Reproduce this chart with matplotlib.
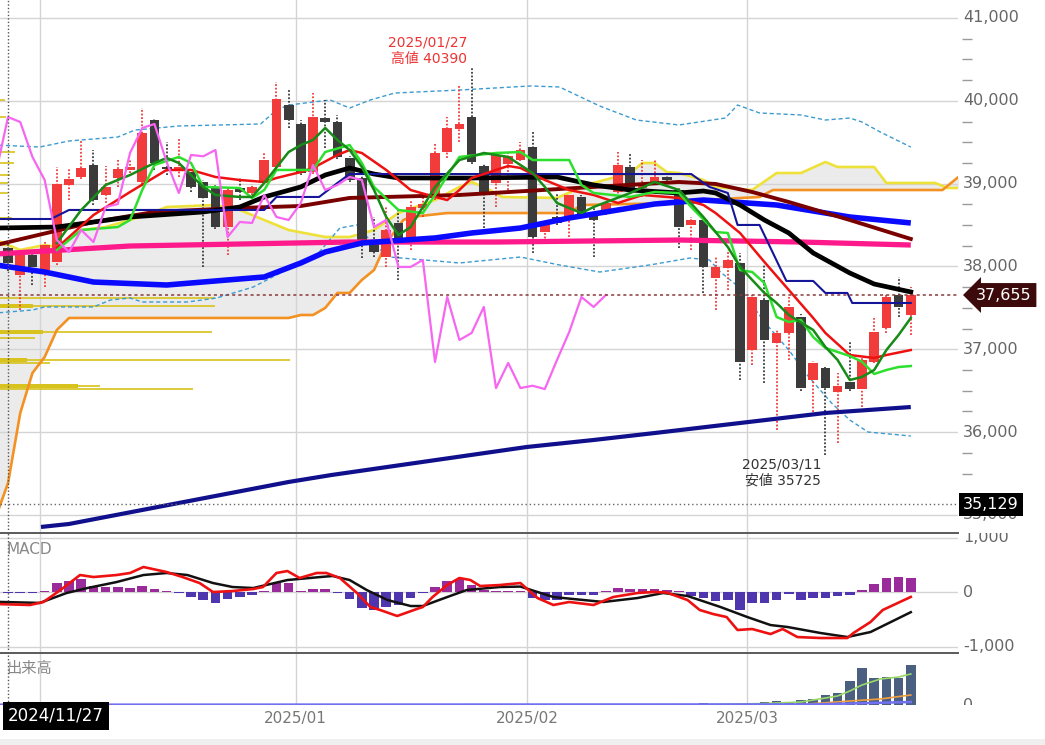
import numpy as np
import pandas as pd
import matplotlib
matplotlib.use('Agg')
import matplotlib.pyplot as plt
from matplotlib.patches import Rectangle

plt.rcParams['font.family'] = ['DejaVu Sans', 'Noto Sans CJK JP']

# ---- trading days (TSE calendar) ----
holidays = ['2024-12-31', '2025-01-01', '2025-01-02', '2025-01-03',
            '2025-01-13', '2025-02-11', '2025-02-24', '2025-03-20']
dates = pd.bdate_range('2024-11-27', '2025-03-21')
dates = dates[~dates.isin(pd.to_datetime(holidays))]

# ---- daily candles ----
opens = [38223, 37897, 38138, 37957, 38054, 38984, 39080, 39225, 38863, 39068,
         39165, 39020, 39768, 39190, 39177, 39140, 39020, 38960, 38476, 38947,
         38887, 39008, 39201, 39949, 39720, 39140, 39792, 39744, 39310, 39068,
         38319, 38114, 38525, 38319, 38706, 38827, 39382, 39660, 39804, 39213,
         39008, 39240, 39285, 39442, 38416, 38597, 38561, 38839, 38645, 38645,
         38899, 39201, 38947, 39020, 39080, 38923, 38501, 38561, 37861, 37981,
         38042, 36991, 37595, 37076, 37197, 37390, 36629, 36774, 36488, 36605,
         36520, 36847, 37257, 37655, 37414]
highs = [38300, 38199, 38199, 38300, 39201, 39189, 39527, 39406, 39213, 39285,
         39280, 39913, 39780, 39503, 39551, 39160, 39040, 38980, 38950, 39068,
         39000, 39370, 40227, 40130, 39768, 40094, 40010, 39829, 39330, 39090,
         38597, 38718, 38706, 38802, 38887, 39491, 39804, 40191, 40390, 39240,
         39370, 39390, 39503, 39623, 38560, 38887, 38880, 38860, 38700, 38790,
         39382, 39370, 39285, 39285, 39100, 38950, 38600, 38600, 38114, 38199,
         38163, 37660, 38018, 37230, 37631, 37420, 36860, 36790, 36714, 37088,
         36890, 37378, 37650, 37870, 37750]
lows = [37950, 37474, 37776, 37752, 38020, 38802, 39050, 38742, 38766, 38960,
        39130, 39000, 39165, 39104, 39080, 38900, 37994, 38450, 38138, 38802,
        38860, 38990, 39180, 39672, 39100, 39120, 39430, 39300, 39020, 38102,
        38114, 37994, 37837, 38199, 38597, 38800, 39310, 39503, 39240, 38464,
        38718, 38923, 39270, 38163, 38295, 38500, 38356, 38580, 38114, 38620,
        38839, 38900, 38839, 39000, 39020, 38219, 38199, 37680, 37474, 37716,
        36629, 36810, 36593, 36026, 36871, 36500, 36243, 35725, 35869, 36500,
        36303, 36830, 37197, 37390, 37173]
closes = [38042, 38138, 37994, 38259, 38996, 39056, 39189, 38802, 38960, 39177,
          39201, 39611, 39249, 39180, 39201, 38960, 38827, 38476, 38923, 38899,
          38960, 39285, 40022, 39768, 39128, 39804, 39744, 39322, 39044, 38319,
          38175, 38440, 38295, 38718, 38754, 39370, 39672, 39720, 39261, 38887,
          39346, 39330, 39406, 38356, 38537, 38525, 38863, 38597, 38561, 38766,
          39225, 38923, 38984, 39080, 39044, 38476, 38561, 37994, 37994, 38078,
          36847, 37631, 37112, 37197, 37511, 36532, 36835, 36532, 36560, 36520,
          36871, 37209, 37631, 37511, 37655]
lag = 25            # lagging span shift (days)
ref_level = 35129   # level marked on the right axis

# ---- overlay lines (trading-day index, price) ----
ma_red_x = [4, 7, 10, 13, 15, 17, 19, 21, 22, 24, 25, 27, 28, 29, 31, 33, 35, 36, 37, 38,
            40, 41, 42, 44, 46, 48, 50, 52, 55, 57, 58, 60, 62, 64, 66, 67, 69, 71, 72, 74]
ma_red = [38223, 38621, 38899, 39165, 39165, 39080, 39044, 39020, 39068, 39140,
          39189, 39346, 39406, 39370, 39165, 38923, 38839, 38802, 38923, 39068,
          39165, 39213, 39189, 39044, 38923, 38863, 38766, 38863, 38827, 38742,
          38645, 38404, 38054, 37716, 37378, 37197, 36931, 36895, 36931, 36991]
ma_lime_x = [4, 6, 9, 10, 11, 12, 14, 15, 16, 19, 20, 21, 22, 25, 26, 28, 29, 30, 32, 34,
             35, 37, 40, 42, 43, 46, 47, 48, 51, 53, 55, 56, 58, 59, 60, 61, 62, 63, 64, 65,
             66, 67, 69, 70, 71, 72, 73, 74]
ma_lime = [38199, 38440, 38476, 38561, 38923, 39225, 39322, 39249, 38960, 38947,
           38827, 38923, 39165, 39165, 39382, 39466, 39249, 38960, 38682, 38645,
           38863, 39322, 39370, 39382, 39285, 39285, 38984, 38887, 38839, 38899,
           38887, 38718, 38416, 38404, 37957, 37933, 37800, 37390, 37330, 37354,
           37148, 37016, 36919, 36850, 36702, 36750, 36786, 36798]
ma_green_x = [4, 6, 8, 10, 12, 13, 14, 16, 17, 19, 20, 21, 23, 24, 25, 26, 27, 28, 29, 30,
              31, 32, 33, 35, 37, 39, 41, 43, 44, 45, 47, 48, 51, 53, 55, 57, 59, 60, 61, 62,
              63, 64, 66, 67, 68, 69, 70, 71, 72, 73, 74]
ma_green = [38283, 38682, 38984, 39104, 39249, 39310, 39249, 38960, 38863, 38839,
            38839, 39008, 39382, 39466, 39527, 39672, 39527, 39406, 39201, 38923,
            38597, 38380, 38476, 38960, 39285, 39370, 39322, 39128, 38960, 38766,
            38645, 38718, 38887, 39020, 38923, 38597, 38235, 37994, 37837, 37680,
            37559, 37414, 37233, 37028, 36871, 36629, 36666, 36750, 36991, 37173, 37378]
ma_black_x = [-1, 4, 10, 16, 19, 21, 24, 26, 28, 30, 32, 38, 45, 48, 51, 55, 57, 58, 60, 62,
              64, 66, 69, 71, 74]
ma_black = [38464, 38476, 38597, 38658, 38718, 38839, 38960, 39104, 39189, 39116,
            39068, 39068, 39080, 38984, 38923, 38887, 38911, 38887, 38742, 38561,
            38404, 38163, 37921, 37788, 37692]
ma_maroon_x = [-1, 7, 12, 19, 24, 28, 37, 48, 55, 58, 61, 64, 69, 74]
ma_maroon = [38259, 38537, 38658, 38706, 38730, 38827, 38863, 38960, 39020, 38996,
             38899, 38778, 38561, 38332]
ma_blue_x = [-1, 3, 7, 13, 18, 21, 24, 26, 29, 35, 38, 42, 46, 50, 53, 57, 63, 69, 74]
ma_blue = [38018, 37933, 37812, 37776, 37837, 37873, 38042, 38175, 38283, 38344,
           38404, 38464, 38585, 38682, 38754, 38802, 38742, 38597, 38525]
ma_pink_x = [-1, 10, 28, 40, 55, 65, 74]
ma_pink = [38150, 38247, 38295, 38295, 38319, 38295, 38259]
ma_navy_x = [2.7, 5, 23, 26.5, 42.5, 48, 53, 67, 74]
ma_navy = [34855, 34891, 35398, 35482, 35820, 35905, 35989, 36231, 36303]

kijun_x = [-1, 3.5, 5, 21, 22, 25.5, 27, 28, 56, 57.5, 59, 59.8, 61.6, 63.8, 66, 67,
           68.8, 69.2, 74]
kijun = [38573, 38573, 38682, 38682, 38839, 38839, 39008, 39116, 39116, 38960,
         38887, 38501, 38501, 37825, 37825, 37680, 37680, 37559, 37559]
span_a_x = [-1, 1, 3, 4, 6, 8, 10, 12, 13, 17, 19, 21, 23, 26, 28, 30, 32, 35, 37, 38,
            39.5, 40.5, 45, 46.5, 48, 51, 52, 53, 54, 55, 57, 58, 61, 63, 65, 67, 68, 71,
            72, 76, 77, 79]
span_a = [38320, 38199, 38259, 38235, 38440, 38476, 38561, 38658, 38718, 38742,
          38682, 38561, 38440, 38356, 38356, 38440, 38645, 38802, 38960, 39020,
          38923, 38839, 38827, 38923, 39008, 39128, 39249, 39249, 39140, 39128,
          39044, 38960, 38923, 39128, 39128, 39261, 39201, 39201, 39008, 39008,
          38947, 38947]
span_b_x = [-1, 0, 1, 2, 3, 4, 5, 23, 24, 25, 26, 27, 28, 29, 30, 31, 32.4, 33, 36, 46,
            47, 55, 57, 61.6, 62.7, 76.6, 77.9, 79]
span_b = [34975, 35386, 36231, 36714, 36907, 37233, 37378, 37378, 37414, 37414,
          37499, 37680, 37680, 37837, 37957, 38283, 38561, 38597, 38645, 38645,
          38742, 38766, 38802, 38839, 38923, 38923, 39080, 39080]
bb_up_x = [-1, 2.6, 5, 9, 10.4, 14, 20.7, 22, 23, 26.4, 28, 29.7, 31.7, 37, 42.8, 45.2,
           48.5, 51.5, 55, 58.8, 59.8, 61.6, 65, 67, 69, 70, 71.5, 74]
bb_up = [39466, 39442, 39515, 39563, 39647, 39696, 39720, 39889, 39949, 40010,
         39913, 40010, 40094, 40130, 40179, 40167, 39937, 39768, 39708, 39792,
         39949, 39853, 39829, 39768, 39792, 39744, 39623, 39442]
bb_dn_x = [-1, 2, 3, 7, 8.4, 10, 11, 14.7, 17.1, 20.1, 23.1, 25.3, 27.2, 28.6, 30, 31.3,
           37, 42, 45.2, 48.5, 52.6, 55.9, 57.5, 58.4, 60, 62, 64, 65.5, 67.5, 69, 70.5, 74]
bb_dn = [37438, 37474, 37511, 37511, 37595, 37619, 37571, 37571, 37619, 37752,
         37981, 38138, 38464, 38501, 38259, 38114, 38042, 38114, 38018, 37933,
         38018, 38102, 38078, 37933, 37740, 37330, 36991, 36690, 36352, 36146,
         36001, 35953]

# volume by price (price level, total, core)
vp_price = [40010, 39804, 39382, 39249, 39104, 39008, 38887, 38585, 38464, 38259,
            37619, 37523, 37209, 37136, 36871, 36835, 36557, 36520]
vp_total = [5, 6, 15, 14, 10, 8, 8, 12, 8, 10, 215, 215, 212, 35, 290, 50, 100, 193]
vp_core = [0, 0, 0, 0, 0, 0, 0, 0, 0, 0, 0, 33, 43, 0, 27, 0, 78, 0]

# ---- MACD ----
macd_x = [-1, 1.8, 2.9, 4.3, 5.9, 7, 8.9, 10, 11.1, 13, 14.3, 15.7, 16.8, 18.4, 20.1,
          20.9, 22, 22.9, 23.9, 25.3, 26.1, 27.2, 28.6, 29.7, 30.5, 31.9, 33.5, 34,
          34.8, 36, 37, 37.9, 38.7, 40.3, 42, 43.4, 44.7, 46, 48, 49.6, 51.6, 52.9, 54,
          55.7, 56.7, 57.8, 58.9, 59.8, 61, 62.5, 63.5, 64.7, 66.6, 68.8, 69.3, 70.7,
          71.7, 74]
macd = [-220, -238, -183, 37, 312, 275, 312, 349, 459, 367, 275, 165, 0, 18, 55, 92,
        349, 385, 257, 349, 349, 257, -18, -275, -330, -440, -312, -275, -92, 128,
        257, 220, 110, 128, 165, -110, -238, -183, -238, -92, -18, 0, -10, -147, -330,
        -404, -459, -697, -679, -771, -679, -826, -844, -844, -752, -550, -330, -90]
signal_x = [-1, 2.6, 4.8, 6.5, 8.9, 11.1, 13, 14.7, 16.8, 18.4, 20.1, 22.9, 25.6, 26.6,
            28, 29.4, 31.1, 33, 34, 36, 37.6, 40.3, 42, 44.7, 48.8, 51.6, 53.7, 55.7,
            58.4, 60.6, 62.5, 63.9, 66.6, 68.8, 70.7, 74]
signal = [-180, -200, -18, 73, 183, 312, 349, 312, 165, 92, 73, 220, 275, 294, 220, 37,
          -147, -257, -257, -92, 37, 92, 100, -92, -183, -110, -18, -73, -275, -459,
          -606, -642, -752, -826, -734, -370]
hist = [-15, -10, -15, 10, 165, 200, 235, 110, 92, 92,
        73, 117, 55, 10, -10, -92, -147, -202, -128, -92,
        -55, 10, 165, 165, 15, 55, 55, -15, -128, -294,
        -330, -275, -238, -110, -15, 100, 202, 238, 128, 30,
        15, 15, 20, -110, -140, -150, -55, -55, -55, 20,
        73, 55, 55, 55, 40, 10, -73, -110, -165, -147,
        -330, -202, -202, -147, -37, -140, -110, -110, -80, -50,
        40, 150, 257, 270, 257]

# ---- volume ----
volume = [0] * 56 + [500, 1700, 600, 800, 1000, 1500, 3000, 4000, 3000, 5000, 6000,
                     10000, 12000, 24000, 37000, 27000, 28000, 27000, 40000]
vol_ma1_x = [57, 62, 65, 68, 69, 70, 71.5, 73, 74]
vol_ma1 = [300, 1500, 3000, 9000, 14000, 20000, 26000, 28000, 31000]
vol_ma2_x = [65, 69, 71.5, 74]
vol_ma2 = [500, 4000, 6000, 10000]
vol_ma3_x = [-1, 66, 74]
vol_ma3 = [300, 600, 3000]

# ---------------- layout ----------------
W, H = 1045, 745
fig = plt.figure(figsize=(W / 100, H / 100), dpi=100)


def px_box(x0, y0, x1, y1):
    return [x0 / W, 1 - y1 / H, (x1 - x0) / W, (y1 - y0) / H]


ax = fig.add_axes(px_box(0, 0, 958, 533))
ax_macd = fig.add_axes(px_box(0, 533, 958, 653), sharex=ax)
ax_vol = fig.add_axes(px_box(0, 653, 958, 705), sharex=ax)
lab_main = fig.add_axes(px_box(958, 0, 1045, 533), sharey=ax)
lab_macd = fig.add_axes(px_box(958, 533, 1045, 653), sharey=ax_macd)
lab_vol = fig.add_axes(px_box(958, 653, 1045, 705), sharey=ax_vol)

ax.set_xlim(-0.66, 77.87)
ax.set_ylim(34782, 41217)
ax_macd.set_ylim(-1119, 1083)
ax_vol.set_ylim(0, 52000)

idx = np.arange(len(closes))
month_start = [i for i in range(1, len(dates)) if dates[i].month != dates[i - 1].month]
grid_x = [i - 0.42 for i in month_start]
# the first month label sits under the start-date tag, so it stays blank
grid_lbl = [''] + [dates[i].strftime('%Y/%m') for i in month_start[1:]]

grid_color = '#d4d4d4'
for a in (ax, ax_macd, ax_vol):
    for s in a.spines.values():
        s.set_visible(False)
    a.set_xticks(grid_x)
    a.grid(axis='x', color=grid_color, lw=1)
    a.set_axisbelow(True)
    a.tick_params(left=False, labelleft=False, bottom=False, labelbottom=False)
    a.axvline(0, color='#555555', lw=1, ls=(0, (1, 1.5)), zorder=6)
ax_vol.tick_params(labelbottom=True, labelsize=11, labelcolor='#777777', pad=1)
ax_vol.set_xticklabels(grid_lbl)

for a in (ax_macd, ax_vol):
    a.spines['top'].set_visible(True)
    a.spines['top'].set_color('#5a5a5a')
    a.spines['top'].set_linewidth(1.4)

# main price grid
ax.set_yticks(range(35000, 41001, 1000))
ax.grid(axis='y', color=grid_color, lw=1)

# ichimoku cloud
cx = np.union1d(span_a_x, span_b_x)
ax.fill_between(cx, np.interp(cx, span_a_x, span_a), np.interp(cx, span_b_x, span_b),
                color='#ebebeb', lw=0, zorder=0.2)
ax.plot(span_a_x, span_a, color='#eee13a', lw=1.9, zorder=2)
ax.plot(span_b_x, span_b, color='#f39122', lw=1.9, zorder=2)

# volume by price
px_to_idx = 1 / 12.19
vp_left = -0.66
ax.barh(vp_price, np.array(vp_total) * px_to_idx, left=vp_left, height=14,
        color='#d8c21e', alpha=0.85, lw=0, zorder=1)
ax.barh(vp_price, np.array(vp_core) * px_to_idx, left=vp_left, height=40,
        color='#d8c21e', lw=0, zorder=1)

# bollinger bands
ax.plot(bb_up_x, bb_up, color='#3d9bd0', lw=1, ls=(0, (3, 2)), zorder=2)
ax.plot(bb_dn_x, bb_dn, color='#3d9bd0', lw=1, ls=(0, (3, 2)), zorder=2)

# candles
o = np.array(opens)
c = np.array(closes)
up = c >= o
col = np.where(up, '#f23b3b', '#3b3b3b')
ax.vlines(idx, lows, highs, colors=col, lw=1.3, linestyles=(0, (1, 1)), zorder=3)
body = np.maximum(np.abs(c - o), 20)
ax.bar(idx, body, bottom=np.minimum(o, c), width=0.8, color=col, lw=0, zorder=3.1)

# moving averages and other lines
ax.plot(ma_pink_x, ma_pink, color='#ff1a8c', lw=3.8, zorder=4, solid_capstyle='butt')
ax.plot(ma_blue_x, ma_blue, color='#0a0aff', lw=4.0, zorder=4.1, solid_capstyle='butt')
ax.plot(ma_navy_x, ma_navy, color='#10108c', lw=3.0, zorder=4.1, solid_capstyle='butt')
ax.plot(ma_maroon_x, ma_maroon, color='#7a0000', lw=2.8, zorder=4.2)
ax.plot(ma_black_x, ma_black, color='#000000', lw=3.4, zorder=4.3)
ax.plot(kijun_x, kijun, color='#15159a', lw=1.5, zorder=4.4)
ax.plot(ma_red_x, ma_red, color='#ee1111', lw=1.8, zorder=4.5)
ax.plot(ma_lime_x, ma_lime, color='#2ee02e', lw=1.8, zorder=4.6)
ax.plot(ma_green_x, ma_green, color='#178a17', lw=1.8, zorder=4.7)
ax.plot(idx - lag, closes, color='#f766f0', lw=1.6, zorder=4.8)

# price / reference lines
ax.axhline(closes[-1], color='#8a3a3a', lw=1.1, ls=(0, (2, 2)), zorder=5)
ax.axhline(ref_level, color='#666666', lw=1, ls=(0, (1, 2)), zorder=5)

# high / low annotations
i_hi = int(np.argmax(highs))
i_lo = int(np.argmin(lows))
ax.annotate(f"{dates[i_hi].strftime('%Y/%m/%d')}\n高値 {highs[i_hi]}", xy=(i_hi, highs[i_hi]),
            xytext=(-3, 2), textcoords='offset points', ha='right', va='bottom',
            multialignment='right', fontsize=10, color='#ee3333', linespacing=1.2)
ax.annotate(f"{dates[i_lo].strftime('%Y/%m/%d')}\n安値 {lows[i_lo]}", xy=(i_lo, lows[i_lo]),
            xytext=(-3, -2), textcoords='offset points', ha='right', va='top',
            multialignment='right', fontsize=10, color='#333333', linespacing=1.2)

# MACD panel
ax_macd.set_yticks([-1000, 0, 1000])
ax_macd.grid(axis='y', color=grid_color, lw=1)
h = np.array(hist)
ax_macd.bar(idx, h, width=0.78, color=np.where(h >= 0, '#9a2b9a', '#5036ae'), lw=0, zorder=2)
ax_macd.plot(signal_x, signal, color='#111111', lw=1.8, zorder=3)
ax_macd.plot(macd_x, macd, color='#ee1111', lw=1.9, zorder=3.1)

# volume panel
ax_vol.bar(idx, volume, width=0.78, color='#4b6080', lw=0, zorder=2)
ax_vol.plot(vol_ma1_x, vol_ma1, color='#9ad86a', lw=1.2, zorder=3)
ax_vol.plot(vol_ma2_x, vol_ma2, color='#f0a040', lw=1.2, zorder=3)
ax_vol.plot(vol_ma3_x, vol_ma3, color='#7070f0', lw=1.8, zorder=3)

# right-hand label columns
lab_color = '#666666'
for a in (lab_main, lab_macd, lab_vol):
    a.set_xlim(0, 1)
    a.axis('off')

for v in range(35000, 41001, 1000):
    lab_main.text(0.06, v, f'{v:,}', fontsize=11.5, color=lab_color, va='center', clip_on=True)
minor = [v for v in range(34750, 41250, 250) if v % 1000]
lab_main.hlines(minor, 0.05, 0.16, color='#9a9a9a', lw=1)
lab_main.text(0.21, closes[-1], f'{closes[-1]:,}', fontsize=11.5, color='white', va='center',
              bbox=dict(boxstyle='larrow,pad=0.28', fc='#3c0a0a', ec='none'), zorder=5)
lab_main.text(0.06, ref_level, f'{ref_level:,}', fontsize=11.5, color='white', va='center',
              bbox=dict(boxstyle='square,pad=0.25', fc='black', ec='none'), zorder=5)

for v in (-1000, 0, 1000):
    lab_macd.text(0.06, v, f'{v:,}', fontsize=11.5, color=lab_color, va='center', clip_on=True)
lab_vol.text(0.06, 0, '0', fontsize=11.5, color=lab_color, va='center', clip_on=True)

# panel captions and start date tag
fig.text(6 / W, 1 - 549 / H, 'MACD', fontsize=11, color='#888888', va='center')
fig.text(6 / W, 1 - 668 / H, '出来高', fontsize=11, color='#888888', va='center')
fig.text(8 / W, 1 - 716 / H, dates[0].strftime('%Y/%m/%d'), fontsize=12, color='white',
         va='center', zorder=10,
         bbox=dict(boxstyle='square,pad=0.3', fc='black', ec='none'))
fig.patches.append(Rectangle((0, 0), 1, 6 / H, transform=fig.transFigure,
                             fc='#efefef', ec='none'))

fig.savefig('out.png', dpi=100)
